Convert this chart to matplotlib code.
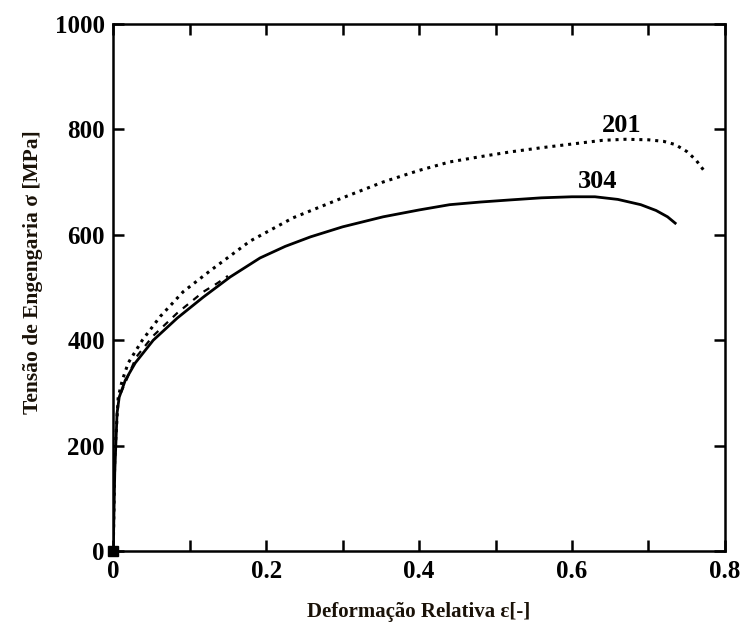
import matplotlib.pyplot as plt
import numpy as np

plt.rcParams['font.family'] = ['Liberation Serif', 'DejaVu Serif']

# aço 304 (linha contínua)
strain_304 = [0, 0.002, 0.005, 0.0078, 0.0157, 0.0288, 0.0523, 0.0837, 0.118, 0.153, 0.192,
              0.225, 0.258, 0.3, 0.353, 0.4, 0.44, 0.48, 0.519, 0.56, 0.6, 0.63, 0.66, 0.69,
              0.71, 0.725, 0.735]
stress_304 = [0, 150, 262, 292, 324, 357, 400, 442, 482, 520, 556,
              578, 596, 615, 634, 647, 657, 662, 666, 670, 672, 672, 667, 657,
              646, 634, 622]

# aço 201 (linha pontilhada)
strain_201 = [0, 0.002, 0.0065, 0.0118, 0.0196, 0.038, 0.0614, 0.0915, 0.127, 0.179, 0.235,
              0.3, 0.353, 0.4, 0.44, 0.48, 0.519, 0.56, 0.6, 0.64, 0.67, 0.7, 0.72, 0.735,
              0.75, 0.762, 0.774]
stress_201 = [0, 180, 292, 324, 357, 400, 445, 492, 532, 588, 632,
              670, 700, 722, 738, 748, 757, 765, 772, 779, 781, 780, 777, 771,
              758, 742, 719]

# curva tracejada junto à 304 no início
strain_dash = [0.01, 0.03, 0.052, 0.084, 0.118, 0.136, 0.15]
stress_dash = [300, 368, 408, 452, 492, 508, 522]

fig = plt.figure(figsize=(7.45, 6.25), dpi=100, facecolor='white')
ax = fig.add_axes([0.152, 0.118, 0.821, 0.844])

ax.plot(strain_304, stress_304, color='black', linewidth=2.0)
ax.plot(strain_201, stress_201, color='black', linewidth=2.2, linestyle=(0, (1.0, 1.6)))
ax.plot(strain_dash, stress_dash, color='black', linewidth=1.6, linestyle=(0, (3, 3)))
ax.plot([0], [0], marker='s', color='black', markersize=7, clip_on=False)

ax.text(0.665, 808, '201', fontsize=19, fontweight='bold', ha='center', va='center')
ax.text(0.634, 700, '304', fontsize=19, fontweight='bold', ha='center', va='center')

ax.set_xlim(0, 0.8)
ax.set_ylim(0, 1000)
ax.set_xticks([0, 0.2, 0.4, 0.6, 0.8])
ax.set_xticklabels(['0', '0.2', '0.4', '0.6', '0.8'])
ax.set_xticks(np.arange(0.1, 0.8, 0.2), minor=True)
ax.set_yticks([0, 200, 400, 600, 800, 1000])

ax.tick_params(which='both', direction='in', top=True, right=True, length=8, width=1.8,
               labelsize=18, pad=6)
for lbl in ax.get_xticklabels() + ax.get_yticklabels():
    lbl.set_fontweight('bold')
for s in ax.spines.values():
    s.set_linewidth(1.8)

ax.set_xlabel('Deformação Relativa ε[-]', fontsize=15, fontweight='bold', color='#1a1208', labelpad=14)
ax.set_ylabel('Tensão de Engengaria σ [MPa]', fontsize=15.5, fontweight='bold', color='#1a1208')
ax.yaxis.set_label_coords(-0.115, 0.53)

fig.savefig('out.png', dpi=100, facecolor='white')
